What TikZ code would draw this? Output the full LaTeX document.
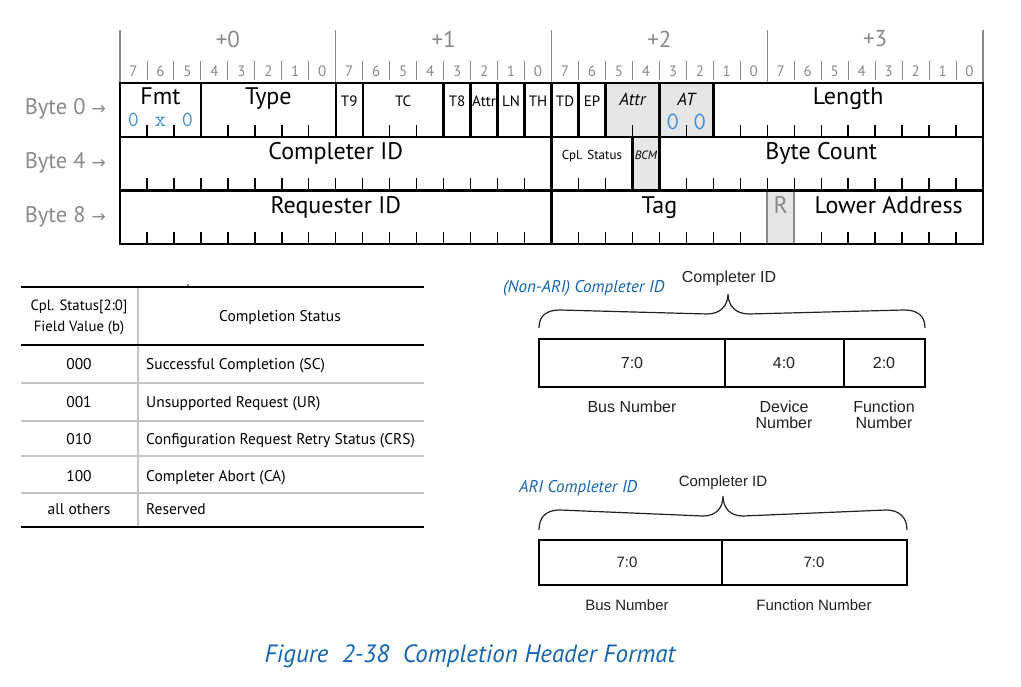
\documentclass[tikz,border=0pt]{standalone}
\usepackage{fontspec}
\setmainfont{PT Sans}
\newfontfamily\arialf{Liberation Sans}
\newfontfamily\symf{DejaVu Sans}
\definecolor{hdrgray}{HTML}{8A8A8A}
\definecolor{cellgray}{HTML}{E6E6E6}
\definecolor{figblue}{HTML}{1565B0}
\definecolor{zeroblue}{HTML}{3B8FD8}
\definecolor{rulegray}{HTML}{C4C4C4}
\definecolor{txtdark}{HTML}{222222}
\newcommand\bx[1]{(120+(#1)*26.97)}
\tikzset{
  fieldline/.style={line width=2.4pt, black},
  tickline/.style={line width=1.4pt, black},
  hdrline/.style={line width=1.3pt, hdrgray},
  bitsep/.style={line width=0.9pt, hdrgray},
  big/.style={font=\fontsize{24}{26}\selectfont, inner sep=0pt, anchor=base},
  small/.style={font=\fontsize{15}{17}\selectfont, inner sep=0pt, anchor=base},
  smallit/.style={font=\fontsize{17.5}{19}\selectfont\itshape, inner sep=0pt, anchor=base},
  zero/.style={font=\fontsize{21.5}{23}\selectfont\ttfamily, text=zeroblue, inner sep=0pt, anchor=base},
  bitnum/.style={font=\fontsize{15}{17}\selectfont, text=hdrgray, inner sep=0pt},
  bytehdr/.style={font=\fontsize{23}{25}\selectfont, text=hdrgray, inner sep=0pt},
  bytelbl/.style={font=\fontsize{22.5}{24}\selectfont, text=hdrgray, inner sep=0pt, anchor=base east},
  tbl/.style={font=\fontsize{15.5}{17}\selectfont, inner sep=0pt, anchor=base},
  tblL/.style={font=\fontsize{15.5}{17}\selectfont, inner sep=0pt, anchor=base west},
  arl/.style={font=\fontsize{16}{18}\selectfont\arialf, text=txtdark, inner sep=0pt, anchor=base},
  arls/.style={font=\fontsize{15}{17}\selectfont\arialf, text=txtdark, inner sep=0pt, anchor=base},
  bluelbl/.style={font=\fontsize{17}{19}\selectfont\itshape, text=figblue, inner sep=0pt, anchor=base west},
  idbox/.style={line width=1.5pt, black},
  bracel/.style={line width=1.2pt, txtdark},
}
\begin{document}
\begin{tikzpicture}[x=1pt,y=-1pt]
\useasboundingbox (0,0) rectangle (1021,687);
\fill[white] (0,0) rectangle (1021,687);

% ---------- header ----------
\foreach \b in {0,...,4} \draw[hdrline] ({\bx{8*\b}},30) -- ({\bx{8*\b}},83);
\foreach \i in {1,...,31} {\pgfmathtruncatemacro\m{mod(\i,8)}
  \ifnum\m>0 \draw[bitsep] ({\bx{\i}},61) -- ({\bx{\i}},80); \fi}
\foreach \i in {0,...,31} {\pgfmathtruncatemacro\v{7-mod(\i,8)}
  \node[bitnum] (bn\i) at ({\bx{\i+0.5}},71) {\v};}
\node[bytehdr] (h0) at ({\bx{4}},39) {+0};
\node[bytehdr] (h1) at ({\bx{12}},39) {+1};
\node[bytehdr] (h2) at ({\bx{20}},39) {+2};
\node[bytehdr] (h3) at ({\bx{28}},39) {+3};

% ---------- gray cells ----------
\fill[cellgray] ({\bx{18}},83) rectangle ({\bx{22}},137);
\fill[cellgray] ({\bx{19}},137) rectangle ({\bx{20}},190.5);
\fill[cellgray] ({\bx{24}},190.5) rectangle ({\bx{25}},244);

% ---------- ticks ----------
\foreach \i in {1,2,4,5,6,7,10,11,19,21} \draw[tickline] ({\bx{\i}},137) -- ++(0,-12);
\foreach \i in {23,...,31} \draw[tickline] ({\bx{\i}},137) -- ++(0,-12);
\foreach \i in {1,...,15} \draw[tickline] ({\bx{\i}},190.5) -- ++(0,-12);
\foreach \i in {17,18} \draw[tickline] ({\bx{\i}},190.5) -- ++(0,-12);
\foreach \i in {21,...,31} \draw[tickline] ({\bx{\i}},190.5) -- ++(0,-12);
\foreach \i in {1,...,15} \draw[tickline] ({\bx{\i}},244) -- ++(0,-12);
\foreach \i in {17,...,23} \draw[tickline] ({\bx{\i}},244) -- ++(0,-12);
\foreach \i in {26,...,31} \draw[tickline] ({\bx{\i}},244) -- ++(0,-12);

% ---------- field dividers ----------
\foreach \i in {3,8,9,12,13,14,15,16,17,18,20,22} \draw[fieldline] ({\bx{\i}},83) -- ({\bx{\i}},137);
\foreach \i in {16,19,20} \draw[fieldline] ({\bx{\i}},137) -- ({\bx{\i}},190.5);
\draw[fieldline] ({\bx{16}},190.5) -- ({\bx{16}},244);
\foreach \i in {24,25} \draw[line width=2.4pt, hdrgray] ({\bx{\i}},190.5) -- ({\bx{\i}},244);
\draw[fieldline] ({\bx{0}},137) -- ({\bx{32}},137);
\draw[fieldline] ({\bx{0}},190.5) -- ({\bx{32}},190.5);
\draw[fieldline] ({\bx{0}},83) rectangle ({\bx{32}},244);

% ---------- field labels ----------
\node[big] (fmt) at ({\bx{1.5}},105) {Fmt};
\node[big] (type) at ({\bx{5.5}},105) {Type};
\node[small] (t9) at ({\bx{8.5}},107) {T9};
\node[small] (tc) at ({\bx{10.5}},107) {TC};
\node[small] (t8) at ({\bx{12.5}},107) {T8};
\node[small] (attr1) at ({\bx{13.5}},107) {Attr};
\node[small] (ln) at ({\bx{14.5}},107) {LN};
\node[small] (th) at ({\bx{15.5}},107) {TH};
\node[small] (td) at ({\bx{16.5}},107) {TD};
\node[small] (ep) at ({\bx{17.5}},107) {EP};
\node[smallit] (attr2) at ({\bx{19}},106) {Attr};
\node[smallit] (at) at ({\bx{21}},106) {AT};
\node[big] (len) at ({\bx{27}},105) {Length};
\node[zero] (f0) at ({\bx{0.5}},127) {0};
\node[zero] (f1) at ({\bx{1.5}},127) {x};
\node[zero] (f2) at ({\bx{2.5}},127) {0};
\node[zero, font=\fontsize{25}{27}\selectfont\ttfamily] (a0) at ({\bx{20.5}},130) {0};
\node[zero, font=\fontsize{25}{27}\selectfont\ttfamily] (a1) at ({\bx{21.5}},130) {0};

\node[big] (cid) at ({\bx{8}},160) {Completer ID};
\node[font=\fontsize{13}{15}\selectfont, inner sep=0pt, anchor=base] (cpl) at ({\bx{17.5}},160) {Cpl. Status};
\node[font=\fontsize{12}{14}\selectfont\itshape, inner sep=0pt, anchor=base] (bcm) at ({\bx{19.5}},160) {BCM};
\node[big] (bc) at ({\bx{26}},160) {Byte Count};

\node[big] (rid) at ({\bx{8}},214) {Requester ID};
\node[big] (tag) at ({\bx{20}},214) {Tag};
\node[big, text=hdrgray] (r) at ({\bx{24.5}},214) {R};
\node[big] (la) at ({\bx{28.5}},214) {Lower Address};

\node[bytelbl] (by0) at (106,115) {Byte 0 {\symf\fontsize{17}{19}\selectfont →}};
\node[bytelbl] (by4) at (106,169) {Byte 4 {\symf\fontsize{17}{19}\selectfont →}};
\node[bytelbl] (by8) at (106,223) {Byte 8 {\symf\fontsize{17}{19}\selectfont →}};

% ---------- table ----------
\fill[black] (188,285) circle (0.8);
\draw[rulegray, line width=2pt] (21,383) -- (424,383);
\draw[rulegray, line width=2pt] (21,421) -- (424,421);
\draw[rulegray, line width=2pt] (21,456) -- (424,456);
\draw[rulegray, line width=2pt] (21,493) -- (424,493);
\draw[rulegray, line width=1.1pt] (138,287) -- (138,527);
\draw[black, line width=2pt] (21,287) -- (424,287);
\draw[black, line width=2pt] (21,345) -- (424,345);
\draw[black, line width=2pt] (21,527) -- (424,527);
\node[tbl, font=\fontsize{14.8}{16}\selectfont] (th1) at (79,311) {Cpl. Status[2:0]};
\node[tbl, font=\fontsize{14.8}{16}\selectfont] (th2) at (79,332) {Field Value (b)};
\node[tbl] (th3) at (280,322) {Completion Status};
\node[tbl] (v0) at (79,370) {000};
\node[tbl] (v1) at (79,407) {001};
\node[tbl] (v2) at (79,444) {010};
\node[tbl] (v3) at (79,481) {100};
\node[tbl] (v4) at (79,514) {all others};
\node[tblL] (d0) at (146,370) {Successful Completion (SC)};
\node[tblL] (d1) at (146,407) {Unsupported Request (UR)};
\node[tblL] (d2) at (146,444) {Configuration Request Retry Status (CRS)};
\node[tblL] (d3) at (146,481) {Completer Abort (CA)};
\node[tblL] (d4) at (146,514) {Reserved};

% ---------- Non-ARI completer ID ----------
\node[bluelbl] (nari) at (503,293) {(Non-ARI) Completer ID};
\node[arl] (cid1) at (729,283) {Completer ID};
\draw[bracel] (539,328) .. controls (539,316) and (546,310) .. (560,310) -- (707,314)
  .. controls (720,314) and (728,306) .. (728,294)
  .. controls (728,306) and (736,314) .. (749,314) -- (904,310)
  .. controls (918,310) and (925,316) .. (925,328);
\draw[idbox] (539,339) rectangle (925,387);
\draw[idbox] (725,339) -- (725,387);
\draw[idbox] (844,339) -- (844,387);
\node[arl] (n70) at (632,368) {7:0};
\node[arl] (n40) at (784,368) {4:0};
\node[arl] (n20) at (884,368) {2:0};
\node[arl] (bus1) at (632,412) {Bus Number};
\node[arl] (dev1) at (784,412) {Device};
\node[arl] (dev2) at (784,428) {Number};
\node[arl] (fun1) at (884,412) {Function};
\node[arl] (fun2) at (884,428) {Number};

% ---------- ARI completer ID ----------
\node[bluelbl] (ari) at (519,492) {ARI Completer ID};
\node[arls] (cid2) at (723,486) {Completer ID};
\draw[bracel] (539,530) .. controls (539,518) and (545,510) .. (560,510) -- (703,516)
  .. controls (716,516) and (723,508) .. (723,496)
  .. controls (723,508) and (730,516) .. (743,516) -- (886,510)
  .. controls (900,510) and (907,518) .. (907,530);
\draw[idbox] (539,540) rectangle (907,585);
\draw[idbox] (722,540) -- (722,585);
\node[arls] (m70a) at (627,567) {7:0};
\node[arls] (m70b) at (814,567) {7:0};
\node[arls] (bus2) at (627,610) {Bus Number};
\node[arls] (fun3) at (814,610) {Function Number};

% ---------- caption ----------
\node[font=\fontsize{25}{27}\selectfont\itshape, text=figblue, inner sep=0pt, anchor=base] (cap) at (470,662) {Figure\ \ 2-38\ \ Completion Header Format};
\end{tikzpicture}
\end{document}
